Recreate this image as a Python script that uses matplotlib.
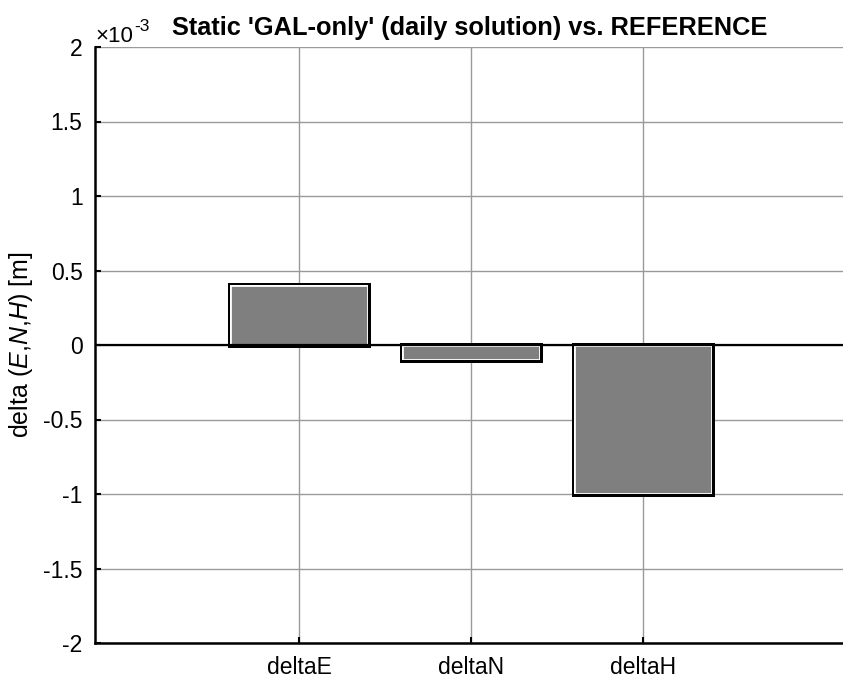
import matplotlib
matplotlib.use("Agg")
import matplotlib.pyplot as plt

plt.rcParams['font.family'] = ['Liberation Sans', 'DejaVu Sans']
plt.rcParams['axes.unicode_minus'] = False
plt.rcParams['mathtext.fontset'] = 'custom'
plt.rcParams['mathtext.rm'] = 'Liberation Sans'
plt.rcParams['mathtext.it'] = 'Liberation Sans:italic'

# Coordinate differences (m)
categories = ['deltaE', 'deltaN', 'deltaH']
deltas_m = [0.4e-3, -0.1e-3, -1.0e-3]
ytick_vals = [-2, -1.5, -1, -0.5, 0, 0.5, 1, 1.5, 2]
ytick_labels = ['-2', '-1.5', '-1', '-0.5', '0', '0.5', '1', '1.5', '2']
scale = 1e-3

W, H = 843, 678
fig = plt.figure(figsize=(W / 100, H / 100), dpi=100)
ax = fig.add_axes([95 / W, 35 / H, 772 / W, 596 / H])

x = [1, 2, 3]
# outer black outline
ax.bar(x, deltas_m, width=0.8, color='#7f7f7f', edgecolor='black',
       linewidth=3.6, zorder=3)
# inner white rim clipped to each bar
inner = ax.bar(x, deltas_m, width=0.8, color='#7f7f7f', edgecolor='white',
               linewidth=2.0, zorder=4)
for p in inner.patches:
    p.set_clip_path(p)

ax.axhline(0, color='black', linewidth=1.6, zorder=5)

ax.set_xlim(-0.186, 4.3)
ax.set_ylim(-2 * scale, 2 * scale)
ax.set_xticks(x)
ax.set_xticklabels(categories)
ax.set_yticks([v * scale for v in ytick_vals])
ax.set_yticklabels(ytick_labels)

ax.grid(True, color='#9a9a9a', linewidth=1.0, zorder=0)
ax.set_axisbelow(True)
for s in ['top', 'right']:
    ax.spines[s].set_visible(False)
for s in ['left', 'bottom']:
    ax.spines[s].set_linewidth(1.8)
    ax.spines[s].set_color('black')

ax.tick_params(axis='both', direction='in', length=4, width=1.5,
               labelsize=16.5, colors='black')
ax.tick_params(axis='x', pad=9)
ax.tick_params(axis='y', pad=9)

ax.set_ylabel(r'delta ($\mathit{E}$,$\mathit{N}$,$\mathit{H}$) [m]',
              fontsize=18, labelpad=6)

# axis exponent: "×10" with a raised "-3"
fig.text(95 / W, 1 - 42 / H, '\u00d710', fontsize=16, va='baseline',
         ha='left')
fig.text(134 / W, 1 - 31 / H, '-3', fontsize=12.5, va='baseline',
         ha='left')
fig.text(470 / W, 1 - 35 / H,
         "Static 'GAL-only' (daily solution) vs. REFERENCE",
         fontsize=18.3, fontweight='bold', ha='center', va='baseline')

fig.savefig('out.png', dpi=100)
